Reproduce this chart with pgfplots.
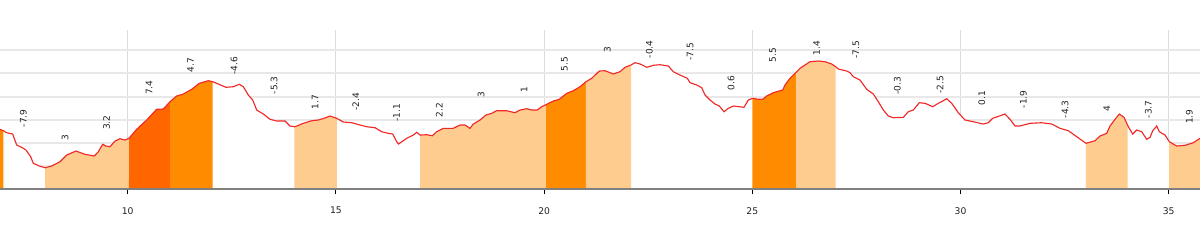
\documentclass[border=0pt]{standalone}
\usepackage{pgfplots}
\pgfplotsset{compat=1.18}
\usepackage{pgfplotstable}
\usepgfplotslibrary{fillbetween}
\usepackage{fontspec}
\setmainfont{DejaVu Sans}
\definecolor{lightc}{HTML}{FECC8E}
\definecolor{midc}{HTML}{FF8C00}
\definecolor{darkc}{HTML}{FF6600}
\definecolor{linec}{HTML}{F02828}
\definecolor{gridc}{HTML}{E8E8E8}
\definecolor{axisc}{HTML}{808080}
\definecolor{txtc}{HTML}{222222}

\pgfplotstableread{
x y
6.933 60.0
7.013 58.6
7.093 56.6
7.237 55.3
7.333 44.3
7.453 42.0
7.557 39.3
7.670 32.6
7.733 26.0
7.878 23.3
8.014 21.6
8.174 23.3
8.374 27.6
8.534 34.3
8.758 38.3
8.974 35.0
9.198 33.3
9.294 37.6
9.399 45.0
9.479 43.3
9.575 42.6
9.695 48.3
9.815 50.6
9.935 49.3
10.031 51.0
10.215 60.0
10.455 69.3
10.695 80.0
10.855 80.3
11.016 87.6
11.176 93.3
11.336 95.3
11.536 100.0
11.720 106.0
11.935 108.6
12.041 107.6
12.176 105.3
12.360 102.0
12.536 102.6
12.680 105.0
12.776 102.6
12.896 94.3
13.002 89.3
13.098 79.3
13.256 75.3
13.417 70.0
13.578 68.3
13.777 68.3
13.897 63.3
14.018 62.6
14.217 66.0
14.419 68.6
14.577 69.3
14.714 71.0
14.858 73.3
15.019 71.0
15.178 67.3
15.379 66.6
15.579 64.3
15.739 62.6
15.939 61.6
16.100 57.6
16.258 56.0
16.364 55.3
16.460 47.6
16.503 45.3
16.700 51.0
16.859 54.3
16.940 57.0
17.019 54.3
17.180 54.6
17.315 53.6
17.421 57.6
17.579 61.0
17.819 61.0
17.980 64.3
18.100 64.3
18.220 61.0
18.300 65.3
18.460 69.3
18.604 74.3
18.741 76.0
18.861 78.6
19.102 78.6
19.301 76.6
19.421 79.3
19.582 80.6
19.702 79.3
19.836 79.3
19.942 82.6
20.062 85.0
20.221 88.3
20.365 90.0
20.543 96.0
20.701 98.6
20.862 102.6
21.006 107.6
21.143 111.0
21.326 118.3
21.462 118.6
21.662 115.3
21.823 117.6
21.943 122.0
22.087 124.3
22.183 126.6
22.303 125.3
22.464 122.0
22.622 124.0
22.783 124.6
22.983 123.3
23.103 117.6
23.263 114.3
23.439 111.0
23.504 106.6
23.664 104.3
23.785 101.6
23.864 94.3
23.984 89.3
24.104 85.3
24.207 83.3
24.320 77.6
24.423 81.0
24.543 83.3
24.688 82.6
24.800 82.0
24.904 89.3
25.009 91.0
25.144 90.0
25.264 90.3
25.345 93.3
25.504 96.6
25.730 99.3
25.785 104.3
25.905 111.0
26.066 117.6
26.145 121.0
26.265 124.3
26.385 127.6
26.585 128.3
26.746 127.6
26.907 125.3
27.003 122.6
27.065 120.3
27.267 118.3
27.346 116.6
27.425 112.6
27.586 109.3
27.747 100.0
27.906 95.3
28.026 87.6
28.146 79.3
28.266 73.3
28.386 71.6
28.626 72.0
28.746 77.6
28.866 79.3
29.010 86.6
29.147 86.0
29.332 82.6
29.467 86.0
29.572 88.3
29.668 90.6
29.788 86.0
29.947 76.6
30.108 69.3
30.307 67.6
30.547 65.3
30.667 66.6
30.773 71.0
30.932 73.3
31.068 75.3
31.189 70.0
31.309 63.3
31.429 63.3
31.669 66.0
31.950 66.6
32.190 65.3
32.389 61.0
32.589 58.6
32.791 52.6
33.014 46.0
33.230 48.6
33.350 53.3
33.511 56.0
33.590 63.3
33.710 70.0
33.813 75.3
33.926 72.0
34.030 62.6
34.135 55.3
34.231 59.3
34.351 57.6
34.471 50.0
34.551 52.0
34.616 58.6
34.712 63.3
34.774 57.6
34.911 54.3
35.014 47.6
35.192 43.3
35.391 44.0
35.591 46.6
35.751 51.0
}\profile

\pgfplotstableread{
x y lab
7.493 62.0 -7.9
8.494 48.6 3
9.495 59.3 3.2
10.511 94.3 7.4
11.512 116.6 4.7
12.553 114.3 -4.6
13.513 95.0 -5.3
14.498 80.0 1.7
15.475 78.3 -2.4
16.460 67.6 -1.1
17.483 72.0 2.2
18.484 92.0 3
19.517 96.6 1
20.485 117.6 5.5
21.518 137.0 3
22.526 131.0 -0.4
23.504 128.6 -7.5
24.488 98.6 0.6
25.490 126.6 5.5
26.546 133.6 1.4
27.490 130.3 -7.5
28.482 94.3 -0.3
29.507 95.3 -2.5
30.509 83.6 0.1
31.508 81.0 -1.9
32.509 71.0 -4.3
33.511 77.6 4
34.510 71.0 -3.7
35.495 65.3 1.9
}\labels

\begin{document}
\begin{tikzpicture}
\begin{axis}[
  scale only axis,
  width=900pt, height=119.5pt,
  xmin=6.933, xmax=35.751,
  ymin=0, ymax=159.3,
  axis x line*=bottom,
  axis y line*=left,
  x axis line style={draw=none},
  y axis line style={draw=none},
  xtick={10,15,20,25,30,35},
  ytick={23.2,46.4,69.6,92.8,116,139.2},
  yticklabels={},
  xmajorgrids, ymajorgrids,
  x grid style={draw=black!14, line width=0.75pt},
  y grid style={draw=gridc, line width=1.5pt},
  tick align=outside,
  xtick pos=bottom,
  major tick length=3.6pt,
  xtick style={draw=black, line width=0.75pt},
  ytick style={draw=none},
  /pgf/number format/assume math mode=true,
  ticklabel style={font=\fontsize{6.9}{8}\selectfont, text=txtc},
  xticklabel style={yshift=-6.3pt},
  clip=false,
]
\addplot[draw=none, name path=prof, forget plot] table[x=x,y=y] {\profile};
\addplot[draw=none, name path=base, forget plot] coordinates {(6.933,0) (35.751,0)};
\addplot[fill=white, draw=none] fill between[of=prof and base];
\addplot[fill=midc, draw=none] fill between[of=prof and base, soft clip={domain=6.933:7.013}];
\addplot[fill=lightc, draw=none] fill between[of=prof and base, soft clip={domain=8.014:10.031}];
\addplot[fill=darkc, draw=none] fill between[of=prof and base, soft clip={domain=10.031:11.016}];
\addplot[fill=midc, draw=none] fill between[of=prof and base, soft clip={domain=11.016:12.041}];
\addplot[fill=lightc, draw=none] fill between[of=prof and base, soft clip={domain=14.0:15.02}];
\addplot[fill=lightc, draw=none] fill between[of=prof and base, soft clip={domain=17.02:20.05}];
\addplot[fill=midc, draw=none] fill between[of=prof and base, soft clip={domain=20.05:21.0}];
\addplot[fill=lightc, draw=none] fill between[of=prof and base, soft clip={domain=21.0:22.09}];
\addplot[fill=midc, draw=none] fill between[of=prof and base, soft clip={domain=25.0:26.06}];
\addplot[fill=lightc, draw=none] fill between[of=prof and base, soft clip={domain=26.06:27.0}];
\addplot[fill=lightc, draw=none] fill between[of=prof and base, soft clip={domain=33.01:34.01}];
\addplot[fill=lightc, draw=none] fill between[of=prof and base, soft clip={domain=35.01:35.751}];
\addplot[draw=linec, line width=0.85pt, mark=none] table[x=x,y=y] {\profile};
\addplot[draw=axisc, line width=1.6pt, mark=none] coordinates {(6.933,0) (35.751,0)};
\addplot[draw=none, mark=none, nodes near coords, point meta=explicit symbolic,
  nodes near coords style={rotate=90, anchor=west, inner sep=0pt,
    font=\fontsize{6.75}{8}\selectfont, text=txtc}]
  table[x=x, y=y, meta=lab] {\labels};
\end{axis}
\pgfresetboundingbox
\path ([yshift=-38pt]current axis.south west) rectangle ([yshift=22.5pt]current axis.north east);
\end{tikzpicture}
\end{document}
